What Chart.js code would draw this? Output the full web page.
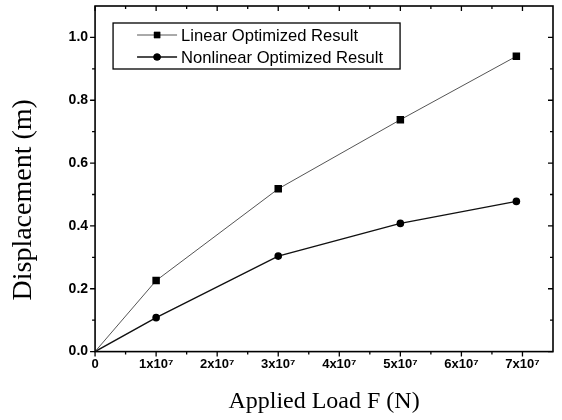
<!DOCTYPE html>
<html lang="en">
<head>
<meta charset="UTF-8">
<title>Displacement vs Applied Load</title>
<style>
  html, body { margin: 0; padding: 0; background: #fff; }
  .chart_container { width: 562px; height: 420px; }
</style>
</head>
<body>
<div class="chart_container">
  <canvas class="loadChart" width="562" height="420"></canvas>
</div>

<script src="https://cdn.jsdelivr.net/npm/chart.js"></script>
<script>
  // applied load (N)
  const loads = [0, 1e7, 3e7, 5e7, 6.9e7];
  // displacement (m)
  const linearResult = [0, 0.226, 0.518, 0.738, 0.94];
  const nonlinearResult = [0, 0.108, 0.304, 0.408, 0.478];
  const seriesNames = ['Linear Optimized Result', 'Nonlinear Optimized Result'];

  const xMajor = [0, 1e7, 2e7, 3e7, 4e7, 5e7, 6e7, 7e7];
  const xMinor = [0.5e7, 1.5e7, 2.5e7, 3.5e7, 4.5e7, 5.5e7, 6.5e7];
  const yMajor = [0, 0.2, 0.4, 0.6, 0.8, 1.0];
  const yMinor = [0.1, 0.3, 0.5, 0.7, 0.9];

  const toPoints = ys => loads.map((x, i) => ({ x: x, y: ys[i] }));
  const xLabel = v => v === 0 ? '0' : Math.round(v / 1e7) + 'x10\u2077';

  // frame with ticks: left/bottom point out, top/right point in
  const framePlugin = {
    id: 'frame',
    afterDraw(chart) {
      const ctx = chart.ctx;
      const a = chart.chartArea;
      const xs = chart.scales.x, ys = chart.scales.y;
      ctx.save();
      ctx.strokeStyle = '#000';
      ctx.lineWidth = 1.6;
      ctx.strokeRect(a.left, a.top, a.right - a.left, a.bottom - a.top);
      ctx.lineWidth = 1.3;
      ctx.beginPath();
      const tickX = (v, len) => {
        const px = xs.getPixelForValue(v);
        ctx.moveTo(px, a.bottom); ctx.lineTo(px, a.bottom + len);
        ctx.moveTo(px, a.top); ctx.lineTo(px, a.top + len);
      };
      const tickY = (v, len) => {
        const py = ys.getPixelForValue(v);
        ctx.moveTo(a.left, py); ctx.lineTo(a.left - len, py);
        ctx.moveTo(a.right, py); ctx.lineTo(a.right - len, py);
      };
      xMajor.forEach(v => tickX(v, 5));
      xMinor.forEach(v => tickX(v, 3));
      yMajor.forEach(v => tickY(v, 5));
      yMinor.forEach(v => tickY(v, 3));
      ctx.stroke();
      ctx.restore();
    }
  };

  // legend box inside the plot, line + marker samples
  const legendPlugin = {
    id: 'boxLegend',
    afterDraw(chart) {
      const ctx = chart.ctx;
      const a = chart.chartArea;
      const left = a.left + 18, top = a.top + 17;
      ctx.save();
      ctx.strokeStyle = '#000';
      ctx.lineWidth = 1.3;
      ctx.strokeRect(left, top, 287, 46);
      ctx.font = '16.6px "Liberation Sans", Arial, sans-serif';
      ctx.textBaseline = 'middle';
      chart.data.datasets.forEach((ds, i) => {
        const cy = top + 12 + i * 22;
        const cx = left + 44;
        ctx.strokeStyle = ds.borderColor;
        ctx.lineWidth = ds.borderWidth;
        ctx.beginPath();
        ctx.moveTo(cx - 20, cy); ctx.lineTo(cx + 20, cy);
        ctx.stroke();
        ctx.fillStyle = '#000';
        Chart.helpers.drawPoint(ctx, {
          pointStyle: ds.pointStyle, radius: i === 0 ? 4.5 : 3.6, rotation: 0, borderWidth: 0
        }, cx, cy);
        ctx.fill();
        ctx.fillStyle = '#000';
        ctx.fillText(ds.label, cx + 24, cy + 1);
      });
      ctx.restore();
    }
  };

  const markerSize = r => (c => c.dataIndex === 0 ? 0 : r);
  const noOverhang = scale => { scale.paddingTop = 0; scale.paddingBottom = 0; scale.paddingLeft = 0; scale.paddingRight = 0; };

  new Chart(document.querySelector('.loadChart'), {
    type: 'line',
    data: {
      datasets: [{
        label: seriesNames[0],
        data: toPoints(linearResult),
        borderColor: '#555',
        borderWidth: 1,
        pointStyle: 'rect',
        pointRadius: markerSize(5.3),
        pointBackgroundColor: '#000',
        pointBorderWidth: 0,
        tension: 0
      }, {
        label: seriesNames[1],
        data: toPoints(nonlinearResult),
        borderColor: '#111',
        borderWidth: 1.4,
        pointStyle: 'circle',
        pointRadius: markerSize(3.8),
        pointBackgroundColor: '#000',
        pointBorderWidth: 0,
        tension: 0
      }]
    },
    options: {
      responsive: false,
      animation: false,
      devicePixelRatio: 1,
      layout: { padding: { top: 6, right: 9, bottom: 0, left: 0 } },
      plugins: {
        legend: { display: false },
        tooltip: { enabled: false }
      },
      scales: {
        x: {
          type: 'linear',
          min: 0,
          max: 7.5e7,
          bounds: 'data',
          grid: { display: false, drawTicks: false },
          border: { display: false },
          afterBuildTicks: s => { s.ticks = xMajor.map(v => ({ value: v })); },
          afterFit: noOverhang,
          ticks: {
            padding: 5,
            color: '#000',
            maxRotation: 0,
            autoSkip: false,
            font: { family: '"Liberation Sans", Arial, sans-serif', size: 13, weight: 'bold' },
            callback: xLabel
          },
          title: {
            display: true,
            text: 'Applied Load F (N)',
            color: '#000',
            font: { family: '"Liberation Serif", "Times New Roman", serif', size: 24 },
            padding: { top: 10, bottom: 4 }
          }
        },
        y: {
          min: 0,
          max: 1.1,
          bounds: 'data',
          grid: { display: false, drawTicks: false },
          border: { display: false },
          afterBuildTicks: s => { s.ticks = yMajor.map(v => ({ value: v })); },
          afterFit: noOverhang,
          ticks: {
            padding: 7,
            color: '#000',
            font: { family: '"Liberation Sans", Arial, sans-serif', size: 14, weight: 'bold' },
            callback: v => v.toFixed(1)
          },
          title: {
            display: true,
            text: 'Displacement (m)      ',
            color: '#000',
            font: { family: '"Liberation Serif", "Times New Roman", serif', size: 28 },
            padding: { top: 7, bottom: 21 }
          }
        }
      }
    },
    plugins: [framePlugin, legendPlugin]
  });
</script>
</body>
</html>
